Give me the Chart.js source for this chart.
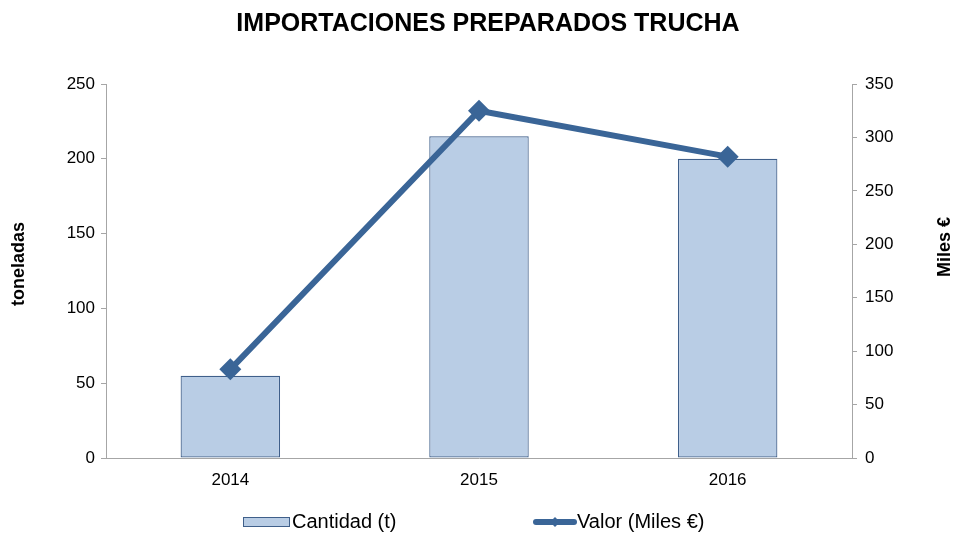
<!DOCTYPE html>
<html>
<head>
<meta charset="utf-8">
<script src="https://cdn.jsdelivr.net/npm/chart.js@4"></script>
<style>
  html, body { margin: 0; padding: 0; background: #fff; }
  #wrap { width: 954px; height: 533px; }
</style>
</head>
<body>
<div id="wrap"><canvas id="myChart" width="954" height="533"></canvas></div>
<script>
// datos
var years = ['2014', '2015', '2016'];
var cantidad = [55, 215, 200];      // toneladas
var valor = [83, 325, 282];         // miles de euros
var leftTicks = [0, 50, 100, 150, 200, 250];
var rightTicks = [0, 50, 100, 150, 200, 250, 300, 350];

var FONT = '"Liberation Sans", Arial, sans-serif';
var lineColor = '#3A6597';

// titulos y leyenda dibujados a mano
var extras = {
    id: 'extras',
    afterDraw: function (chart) {
        var ctx = chart.ctx;
        ctx.save();
        ctx.fillStyle = '#000';
        ctx.font = 'bold 25px ' + FONT;
        ctx.textAlign = 'center';
        ctx.textBaseline = 'middle';
        ctx.fillText('IMPORTACIONES PREPARADOS TRUCHA', 488, 24);

        ctx.font = 'bold 18px ' + FONT;
        ctx.save();
        ctx.translate(19, 264);
        ctx.rotate(-Math.PI / 2);
        ctx.fillText('toneladas', 0, 0);
        ctx.restore();
        ctx.save();
        ctx.translate(945, 247);
        ctx.rotate(-Math.PI / 2);
        ctx.fillText('Miles €', 0, 0);
        ctx.restore();

        // leyenda
        var ds = chart.data.datasets;
        ctx.font = '20px ' + FONT;
        ctx.textAlign = 'left';
        ctx.fillStyle = '#B9CDE5';
        ctx.fillRect(243, 517, 47, 10);
        ctx.strokeStyle = '#3F5F8A';
        ctx.lineWidth = 1;
        ctx.strokeRect(243.5, 517.5, 46, 9);
        ctx.fillStyle = '#000';
        ctx.fillText(ds[1].label, 292, 522);

        ctx.strokeStyle = lineColor;
        ctx.lineWidth = 6;
        ctx.lineCap = 'round';
        ctx.beginPath();
        ctx.moveTo(536, 522);
        ctx.lineTo(574, 522);
        ctx.stroke();
        ctx.fillStyle = lineColor;
        ctx.beginPath();
        ctx.moveTo(555, 517);
        ctx.lineTo(560, 522);
        ctx.lineTo(555, 527);
        ctx.lineTo(550, 522);
        ctx.closePath();
        ctx.fill();
        ctx.fillStyle = '#000';
        ctx.fillText(ds[0].label, 577, 522);
        ctx.restore();
    }
};

var ctx = document.getElementById('myChart').getContext('2d');
var myChart = new Chart(ctx, {
    type: 'bar',
    data: {
        labels: years,
        datasets: [{
            type: 'line',
            label: 'Valor (Miles €)',
            data: valor,
            yAxisID: 'y1',
            borderColor: lineColor,
            backgroundColor: lineColor,
            borderWidth: 6,
            pointStyle: 'rectRot',
            pointRadius: 11,
            pointBorderWidth: 0,
            pointBackgroundColor: lineColor,
            tension: 0,
            order: 0
        }, {
            label: 'Cantidad (t)',
            data: cantidad,
            yAxisID: 'y',
            backgroundColor: '#B9CDE5',
            borderColor: '#3F5F8A',
            borderWidth: 1.2,
            borderSkipped: false,
            barPercentage: 0.4,
            categoryPercentage: 1,
            order: 1
        }]
    },
    options: {
        responsive: false,
        animation: false,
        layout: { padding: { left: 0, right: 0, top: 84, bottom: 30 } },
        plugins: {
            legend: { display: false },
            title: { display: false },
            tooltip: { enabled: false }
        },
        scales: {
            x: {
                offset: true,
                grid: { display: false, drawOnChartArea: false },
                border: { display: true, color: '#A6A6A6', width: 1 },
                ticks: { color: '#000', font: { family: FONT, size: 17 }, padding: 4 },
                afterFit: function (scale) { scale.height = 45; }
            },
            y: {
                position: 'left',
                min: 0,
                max: 250,
                afterBuildTicks: function (scale) {
                    scale.ticks = leftTicks.map(function (v) { return { value: v }; });
                },
                grid: { drawOnChartArea: false, color: '#A6A6A6', tickLength: 5 },
                border: { display: true, color: '#A6A6A6', width: 1 },
                ticks: { color: '#000', font: { family: FONT, size: 17 }, padding: 6 },
                afterFit: function (scale) { scale.width = 106; }
            },
            y1: {
                position: 'right',
                min: 0,
                max: 350,
                afterBuildTicks: function (scale) {
                    scale.ticks = rightTicks.map(function (v) { return { value: v }; });
                },
                grid: { drawOnChartArea: false, color: '#A6A6A6', tickLength: 5 },
                border: { display: true, color: '#A6A6A6', width: 1 },
                ticks: { color: '#000', font: { family: FONT, size: 17 }, padding: 8 },
                afterFit: function (scale) { scale.width = 102; }
            }
        }
    },
    plugins: [extras]
});
</script>
</body>
</html>
